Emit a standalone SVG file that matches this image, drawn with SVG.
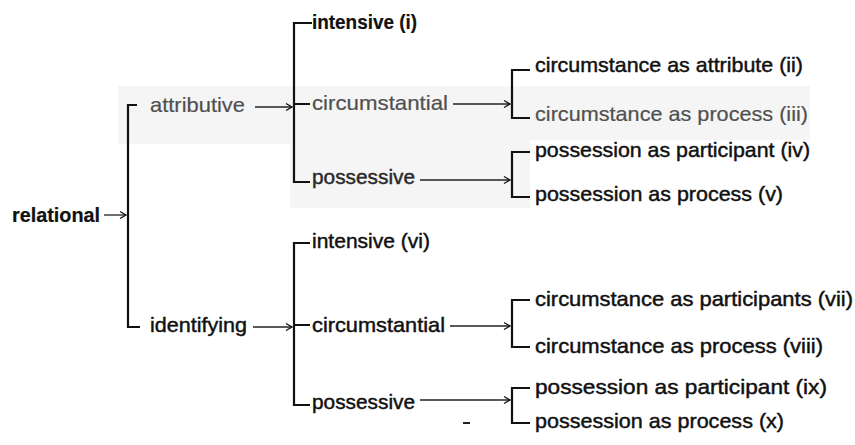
<svg xmlns="http://www.w3.org/2000/svg" width="855" height="445" viewBox="0 0 855 445">
<defs>
<marker id="ah" markerWidth="10" markerHeight="10" refX="8" refY="5" orient="auto" markerUnits="userSpaceOnUse">
<path d="M2,1.5 L8,5 L2,8.5" fill="none" stroke="#111" stroke-width="1.3"/>
</marker>
<style>
text{font-family:"Liberation Sans",Arial,sans-serif;font-size:21px;fill:#111;stroke:#111;stroke-width:0.45}
.b{font-weight:bold;font-size:20px;stroke-width:0.2}
.g{fill:#505050;stroke:#505050;stroke-width:0.2}
.d{fill:#2a2a2a;stroke:#2a2a2a}
.br{fill:none;stroke:#111;stroke-width:2.2}
.ar{fill:none;stroke:#222;stroke-width:1.3;marker-end:url(#ah)}
</style>
</defs>
<rect width="855" height="445" fill="#fff"/>
<polygon points="118,86 810,86 810,140 530,140 530,208 290,208 290,144 118,144" fill="#f5f5f5"/>
<g id="connectors">
<path class="br" d="M137,105 H128 V327 H140"/>
<path class="br" d="M312,23 H294 V182 H310 M294,104 H310"/>
<path class="br" d="M310,243 H294 V405 H310 M294,325 H310"/>
<path class="br" d="M530,70 H512 V118 H530"/>
<path class="br" d="M530,152 H512 V197 H530"/>
<path class="br" d="M530,300 H512 V347 H530"/>
<path class="br" d="M530,388 H512 V423 H530"/>
<path class="ar" d="M104,215 H126"/>
<path class="ar" d="M255,107 H292"/>
<path class="ar" d="M253,327 H292"/>
<path class="ar" d="M453,104 H510"/>
<path class="ar" d="M420,180 H510"/>
<path class="ar" d="M450,326 H510"/>
<path class="ar" d="M420,400 H510"/>
<path d="M463,423 H470" stroke="#222" stroke-width="2"/>
</g>
<g id="n-relational"><text class="b" x="12" y="222" textLength="88" lengthAdjust="spacingAndGlyphs">relational</text></g>
<g id="n-attributive"><text class="g" x="150" y="112" textLength="95" lengthAdjust="spacingAndGlyphs">attributive</text></g>
<g id="n-identifying"><text x="150" y="332" textLength="97" lengthAdjust="spacingAndGlyphs">identifying</text></g>
<g id="n-intensive-i"><text class="b" x="312" y="29" textLength="105" lengthAdjust="spacingAndGlyphs">intensive (i)</text></g>
<g id="n-circumstantial-a"><text class="g" x="312" y="110" textLength="136" lengthAdjust="spacingAndGlyphs">circumstantial</text></g>
<g id="n-possessive-a"><text class="d" x="312" y="184" textLength="103" lengthAdjust="spacingAndGlyphs">possessive</text></g>
<g id="n-ii"><text x="535" y="72" textLength="268" lengthAdjust="spacingAndGlyphs">circumstance as attribute (ii)</text></g>
<g id="n-iii"><text class="g" x="535" y="121" textLength="273" lengthAdjust="spacingAndGlyphs">circumstance as process (iii)</text></g>
<g id="n-iv"><text x="535" y="157" textLength="275" lengthAdjust="spacingAndGlyphs">possession as participant (iv)</text></g>
<g id="n-v"><text x="535" y="201" textLength="248" lengthAdjust="spacingAndGlyphs">possession as process (v)</text></g>
<g id="n-intensive-vi"><text x="312" y="248" textLength="118" lengthAdjust="spacingAndGlyphs">intensive (vi)</text></g>
<g id="n-circumstantial-i"><text x="312" y="332" textLength="133" lengthAdjust="spacingAndGlyphs">circumstantial</text></g>
<g id="n-possessive-i"><text x="312" y="409" textLength="103" lengthAdjust="spacingAndGlyphs">possessive</text></g>
<g id="n-vii"><text x="535" y="306" textLength="318" lengthAdjust="spacingAndGlyphs">circumstance as participants (vii)</text></g>
<g id="n-viii"><text x="535" y="353" textLength="288" lengthAdjust="spacingAndGlyphs">circumstance as process (viii)</text></g>
<g id="n-ix"><text x="535" y="394" textLength="292" lengthAdjust="spacingAndGlyphs">possession as participant (ix)</text></g>
<g id="n-x"><text x="535" y="428" textLength="249" lengthAdjust="spacingAndGlyphs">possession as process (x)</text></g>
</svg>
